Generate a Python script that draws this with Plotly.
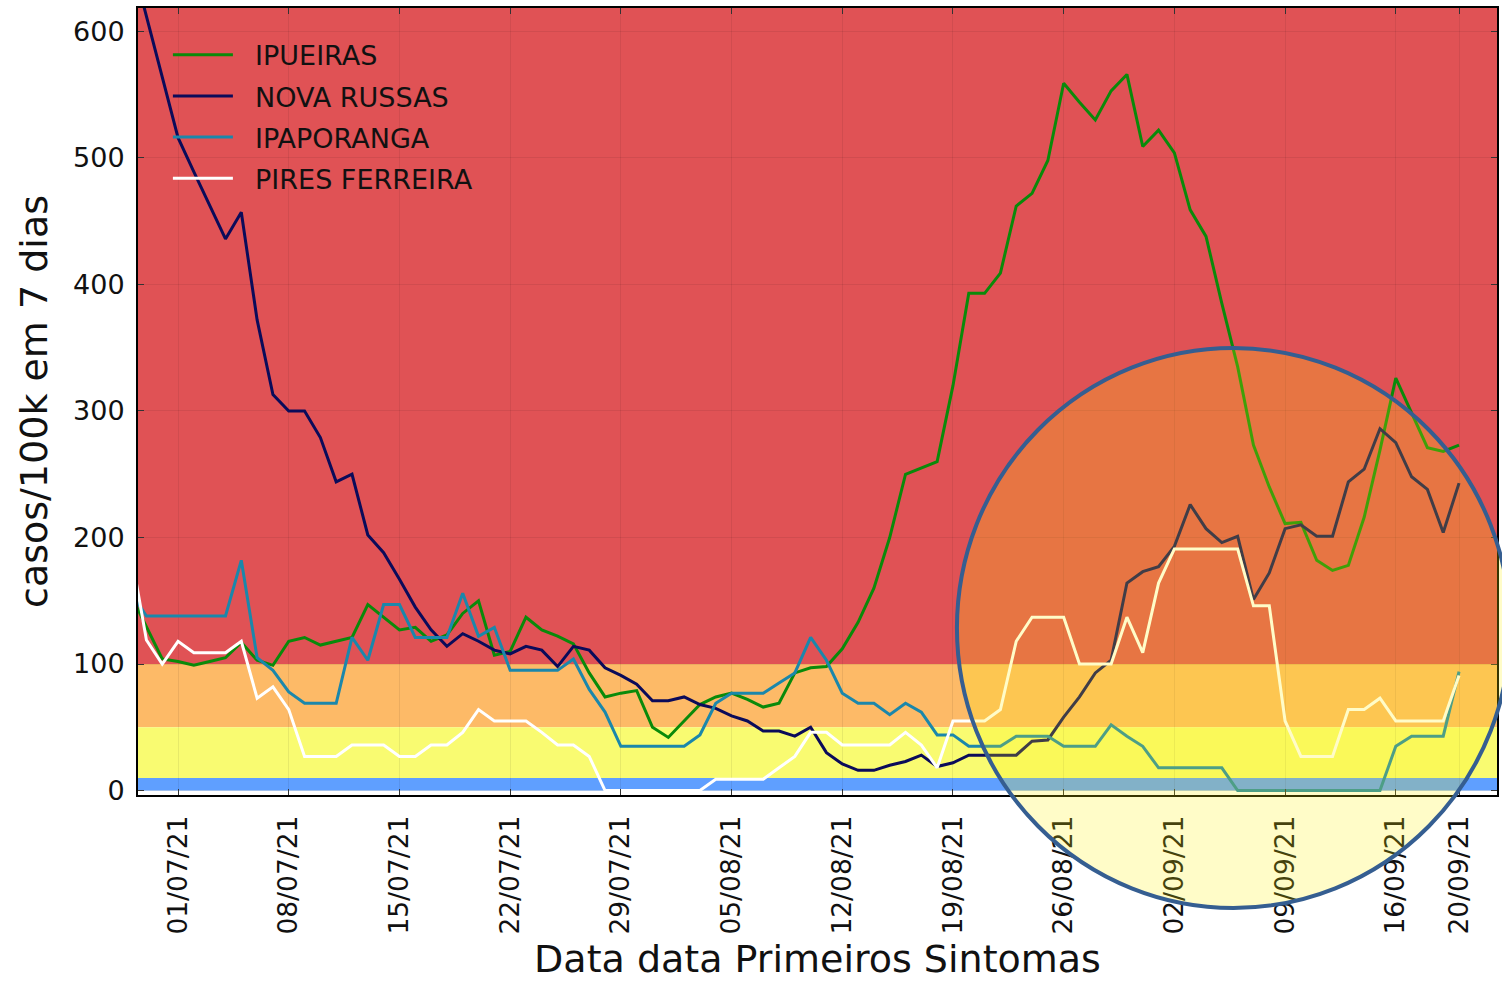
import pandas as pd
import plotly.graph_objects as go

# daily values, 28/06/21 .. 20/09/21
dates = pd.date_range("2021-06-28", "2021-09-20", freq="D")

ipueiras = [155, 129, 104, 102, 99, 102, 105, 117, 103, 99, 118, 121, 115, 118, 121, 147, 137, 127,
            129, 118, 123, 140, 150, 107, 110, 137, 127, 122, 116, 93, 74, 77, 79, 50, 42, 55, 68,
            74, 77, 72, 66, 69, 93, 97, 98, 112, 133, 160, 200, 250, 255, 260, 320, 393, 393, 409,
            462, 472, 498, 559, 544, 530, 553, 566, 509, 522, 504, 459, 438, 385, 335, 273, 240,
            211, 212, 182, 174, 178, 216, 269, 326, 298, 271, 268, 273]
nova_russas = [660, 612, 562, 516, 489, 463, 436, 457, 372, 313, 300, 300, 279, 244, 250, 202, 188,
               167, 145, 127, 114, 124, 118, 111, 108, 114, 111, 98, 114, 111, 97, 91, 84, 71, 71,
               74, 68, 65, 59, 55, 47, 47, 43, 50, 30, 21, 16, 16, 20, 23, 28, 19, 22, 28, 28, 28,
               28, 39, 40, 58, 74, 93, 103, 164, 173, 177, 193, 226, 207, 196, 201, 151, 172, 207,
               210, 201, 201, 244, 254, 286, 275, 248, 238, 204, 243]
ipaporanga = [157, 138, 138, 138, 138, 138, 138, 182, 105, 95, 78, 69, 69, 69, 121, 103, 147, 147,
              121, 121, 121, 156, 122, 129, 95, 95, 95, 95, 104, 80, 62, 35, 35, 35, 35, 35, 44, 69,
              77, 77, 77, 85, 93, 121, 103, 77, 69, 69, 60, 69, 62, 44, 44, 35, 35, 35, 43, 43, 43,
              35, 35, 35, 52, 43, 35, 18, 18, 18, 18, 18, 0, 0, 0, 0, 0, 0, 0, 0, 0, 0, 35, 43, 43,
              43, 94]
pires_ferreira = [190, 119, 100, 118, 109, 109, 109, 118, 73, 82, 64, 27, 27, 27, 36, 36, 36, 27,
                  27, 36, 36, 46, 64, 55, 55, 55, 46, 36, 36, 27, 0, 0, 0, 0, 0, 0, 0, 9, 9, 9, 9,
                  18, 27, 46, 46, 36, 36, 36, 36, 46, 36, 18, 55, 55, 55, 64, 118, 137, 137, 137,
                  100, 100, 100, 137, 109, 164, 191, 191, 191, 191, 191, 146, 146, 55, 27, 27, 27,
                  64, 64, 73, 55, 55, 55, 55, 91]

series = [("IPUEIRAS", ipueiras, "#0a8a0a"),
          ("NOVA RUSSAS", nova_russas, "#0b0b5a"),
          ("IPAPORANGA", ipaporanga, "#1b87ab"),
          ("PIRES FERREIRA", pires_ferreira, "#ffffff")]

tick_dates = ["2021-07-01", "2021-07-08", "2021-07-15", "2021-07-22", "2021-07-29", "2021-08-05",
              "2021-08-12", "2021-08-19", "2021-08-26", "2021-09-02", "2021-09-09", "2021-09-16",
              "2021-09-20"]
tick_text = ["01/07/21", "08/07/21", "15/07/21", "22/07/21", "29/07/21", "05/08/21", "12/08/21",
             "19/08/21", "26/08/21", "02/09/21", "09/09/21", "16/09/21", "20/09/21"]

# risk bands: (low, high, colour)
bands = [(100, 618.5, "#e05255"), (50, 100, "#fdba67"), (10, 50, "#f9fb71"), (0, 10, "#5f9fff")]

fig = go.Figure()
for i, (name, vals, col) in enumerate(series):
    fig.add_trace(go.Scatter(x=dates, y=vals, name="\u00a0\u00a0" + name, mode="lines",
                             legendgroup=str(i), line=dict(color=col, width=3)))

for lo, hi, col in bands:
    fig.add_shape(type="rect", xref="paper", yref="y", x0=0, x1=1, y0=lo, y1=hi,
                  fillcolor=col, line_width=0, layer="below")

# highlight circle
fig.add_shape(type="circle", xref="paper", yref="paper", x0=0.6026, x1=1.0096, y0=-0.1436, y1=0.568,
              fillcolor="rgba(255,240,5,0.22)", line=dict(color="#355e91", width=4), layer="above")

fig.update_layout(
    width=1502, height=981,
    margin=dict(l=138, r=5, t=8, b=186),
    plot_bgcolor="white", paper_bgcolor="white",
    font=dict(family="DejaVu Sans", size=26, color="#111111"),
    legend=dict(x=0.022, y=0.971, xanchor="left", yanchor="top", bgcolor="rgba(0,0,0,0)",
                font=dict(size=27, color="#111111"), tracegroupgap=3, itemwidth=60),
    showlegend=True,
)
fig.update_xaxes(range=["2021-06-28 11:14", "2021-09-22 09:36"], tickvals=tick_dates, ticktext=tick_text,
                 tickangle=-90, ticks="inside", ticklen=6, tickcolor="#333333", showline=True,
                 linecolor="black", linewidth=2, mirror="allticks", showgrid=True,
                 gridcolor="rgba(0,0,0,0.07)", gridwidth=1, ticklabelstandoff=8,
                 tickfont=dict(size=26.5), automargin=False,
                 title=dict(text="Data data Primeiros Sintomas", font=dict(size=38), standoff=18))
fig.update_yaxes(range=[-3.5, 618.5], tickvals=[0, 100, 200, 300, 400, 500, 600], ticks="inside",
                 ticklen=6, tickcolor="#333333", showline=True, linecolor="black", linewidth=2,
                 mirror="allticks", showgrid=True, gridcolor="rgba(0,0,0,0.07)", gridwidth=1,
                 zeroline=False, ticklabelstandoff=6, tickfont=dict(size=27), automargin=False,
                 title=dict(text="casos/100k em 7 dias", font=dict(size=38), standoff=14))

fig.write_html("out.html", config={"displayModeBar": False},
               post_script="document.body.style.margin='0';")
